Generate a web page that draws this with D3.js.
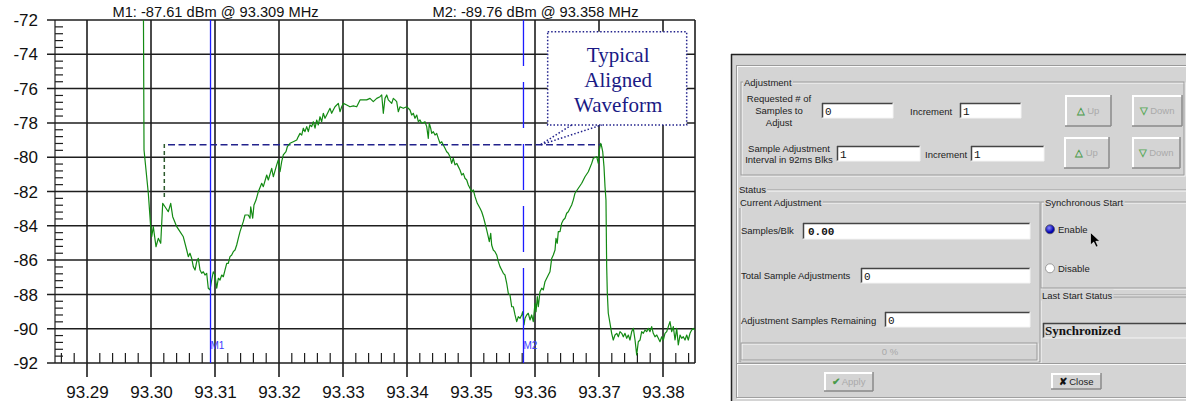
<!DOCTYPE html>
<html><head><meta charset="utf-8">
<script src="https://cdn.jsdelivr.net/npm/d3@7"></script>
<style>body{margin:0;background:#fff}svg{display:block}</style>
</head><body><svg id="c" width="1186" height="401"></svg>
<script>
// ---------- data ----------
const freqMHz = [
93.29880,93.29891,93.29958,93.29995,93.30011,93.30036,93.30078,93.30114,93.30152,93.30183,
93.30219,93.30270,93.30308,93.30339,93.30402,93.30453,93.30505,93.30558,93.30583,93.30609,
93.30636,93.30661,93.30688,93.30714,93.30739,93.30766,93.30792,93.30817,93.30844,93.30870,
93.30895,93.30922,93.30948,93.30973,93.31000,93.31027,93.31052,93.31078,93.31105,93.31130,
93.31156,93.31183,93.31208,93.31234,93.31261,93.31286,93.31313,93.31339,93.31364,93.31391,
93.31442,93.31469,93.31520,93.31547,93.31558,93.31589,93.31609,93.31641,93.31677,93.31730,
93.31755,93.31808,93.31833,93.31886,93.31911,93.31964,93.31989,93.32016,93.32042,93.32067,
93.32109,93.32130,93.32172,93.32223,93.32277,93.32302,93.32328,93.32355,93.32380,93.32406,
93.32433,93.32458,93.32484,93.32511,93.32536,93.32563,93.32589,93.32614,93.32641,93.32667,
93.32692,93.32719,93.32745,93.32770,93.32797,93.32823,93.32848,93.32875,93.32927,93.32953,
93.32980,93.33005,93.33058,93.33109,93.33161,93.33214,93.33266,93.33317,93.33370,93.33422,
93.33473,93.33527,93.33578,93.33605,93.33630,93.33656,93.33683,93.33708,93.33761,93.33786,
93.33813,93.33839,93.33864,93.33891,93.33942,93.33995,93.34047,93.34073,93.34098,93.34125,
93.34152,93.34177,93.34203,93.34230,93.34281,93.34308,93.34333,93.34348,93.34370,93.34386,
93.34411,93.34438,93.34464,93.34489,93.34516,93.34542,93.34567,93.34594,93.34620,93.34645,
93.34672,93.34698,93.34723,93.34750,93.34777,93.34802,93.34828,93.34855,93.34880,93.34906,
93.34933,93.34958,93.34984,93.35011,93.35036,93.35063,93.35098,93.35141,93.35167,93.35192,
93.35219,93.35245,93.35270,93.35286,93.35308,93.35323,93.35348,93.35375,93.35402,93.35427,
93.35453,93.35480,93.35505,93.35531,93.35558,93.35583,93.35609,93.35636,93.35661,93.35688,
93.35714,93.35739,93.35766,93.35792,93.35808,93.35828,93.35844,93.35870,93.35895,93.35922,
93.35948,93.35973,93.36000,93.36016,93.36036,93.36052,93.36078,93.36105,93.36130,93.36156,
93.36183,93.36208,93.36234,93.36261,93.36286,93.36313,93.36328,93.36348,93.36364,93.36391,
93.36417,93.36442,93.36469,93.36495,93.36520,93.36547,93.36573,93.36598,93.36625,93.36677,
93.36730,93.36781,93.36833,93.36886,93.36911,93.36964,93.36989,93.37005,93.37027,93.37042,
93.37058,93.37078,93.37094,93.37109,93.37120,93.37130,93.37145,93.37172,93.37198,93.37223,
93.37250,93.37277,93.37302,93.37328,93.37355,93.37380,93.37406,93.37433,93.37458,93.37484,
93.37511,93.37536,93.37563,93.37589,93.37614,93.37641,93.37667,93.37692,93.37719,93.37745,
93.37770,93.37797,93.37823,93.37848,93.37875,93.37902,93.37927,93.37953,93.37980,93.38005,
93.38031,93.38058,93.38083,93.38109,93.38136,93.38161,93.38188,93.38214,93.38239,93.38266,
93.38292,93.38317,93.38344,93.38370,93.38395,93.38422,93.38448,93.38473,93.38495];
const levelDbm = [
-70.00,-79.58,-82.10,-84.05,-84.64,-84.05,-85.22,-84.73,-85.02,-82.69,
-82.89,-83.18,-82.69,-83.47,-84.05,-84.34,-84.64,-85.41,-85.80,-85.60,
-85.90,-86.38,-86.58,-86.09,-85.90,-86.58,-86.77,-86.68,-86.87,-86.77,
-87.64,-87.74,-87.16,-86.68,-86.87,-87.64,-87.06,-87.16,-86.87,-86.97,
-86.58,-86.19,-86.19,-85.80,-85.70,-85.51,-85.41,-85.12,-84.73,-84.34,
-83.76,-83.37,-83.37,-83.56,-82.89,-83.56,-82.79,-82.50,-82.01,-81.52,
-81.72,-81.04,-81.33,-80.65,-81.14,-80.45,-80.16,-80.85,-80.26,-79.87,
-79.68,-79.39,-79.19,-79.10,-79.00,-78.80,-78.61,-78.71,-78.31,-78.51,
-78.22,-78.51,-78.12,-78.22,-77.93,-78.31,-77.83,-78.12,-77.64,-77.93,
-77.44,-77.73,-77.54,-77.35,-77.15,-77.44,-77.25,-77.06,-76.86,-77.35,
-77.06,-76.86,-76.96,-77.06,-77.01,-77.06,-76.66,-76.66,-76.66,-76.57,
-76.76,-76.57,-76.47,-76.37,-77.44,-76.57,-76.37,-76.66,-76.86,-76.57,
-76.66,-76.76,-77.35,-77.06,-77.15,-77.06,-77.25,-77.54,-77.44,-77.73,
-77.54,-77.93,-77.83,-78.02,-77.93,-78.22,-78.90,-78.02,-78.31,-78.61,
-78.51,-78.71,-78.61,-78.90,-79.19,-79.10,-79.29,-79.48,-79.68,-79.77,
-79.97,-80.36,-80.06,-80.45,-80.36,-80.55,-80.75,-81.04,-80.94,-81.23,
-81.33,-81.62,-81.81,-82.01,-81.91,-82.30,-82.69,-82.98,-83.18,-83.47,
-83.85,-84.24,-84.64,-84.93,-84.44,-85.12,-85.41,-85.51,-85.70,-86.09,
-86.38,-86.58,-86.77,-86.87,-87.35,-87.94,-88.03,-88.72,-88.72,-89.20,
-89.59,-89.30,-89.39,-89.20,-89.01,-89.78,-89.39,-89.20,-89.10,-89.49,
-89.20,-89.59,-88.52,-89.01,-88.13,-88.72,-87.84,-87.64,-87.74,-87.26,
-87.06,-86.87,-86.68,-85.90,-85.70,-85.41,-84.73,-85.02,-84.34,-84.34,
-83.85,-83.66,-83.56,-83.27,-83.18,-82.98,-82.79,-82.50,-82.10,-81.81,
-81.52,-81.14,-80.85,-80.36,-80.06,-79.97,-80.36,-79.58,-79.19,-79.39,
-79.68,-80.55,-81.72,-82.50,-86.38,-87.94,-89.10,-89.69,-90.27,-90.66,
-90.37,-90.27,-90.47,-90.17,-90.27,-90.47,-90.27,-90.56,-90.37,-90.66,
-90.17,-89.98,-90.66,-91.53,-90.76,-90.66,-90.17,-90.27,-90.08,-90.17,
-89.98,-90.17,-89.88,-90.27,-90.47,-90.37,-90.56,-90.76,-90.47,-90.66,
-90.27,-90.17,-89.88,-89.59,-90.17,-89.88,-90.66,-89.98,-90.95,-90.37,
-90.56,-90.47,-90.66,-90.37,-90.66,-90.27,-90.08,-89.98,-90.08];

const xTickValues = [93.29,93.30,93.31,93.32,93.33,93.34,93.35,93.36,93.37,93.38];
const yTickValues = [-72,-74,-76,-78,-80,-82,-84,-86,-88,-90,-92];

const markerNames = ["M1","M2"];
const markerFreq  = [93.3093, 93.3582];
const markerLevel = [-87.61, -89.76];

// typical aligned waveform (dashed reference)
const refStepFreq = 93.30208;
const refStepLevels = [-79.23, -82.5];
const refFreq  = [93.30266, 93.37042];
const refLevel = [-79.28, -79.28];

// callout
const calloutLines = ["Typical","Aligned","Waveform"];
const calloutBoxFreq = [93.36198, 93.38370];
const calloutBoxLevel = [-72.68, -78.12];
const calloutTipFreq = 93.36078, calloutTipLevel = -79.29;
const calloutBaseFreq = [93.36573, 93.37042];

// ---------- chart ----------
const svg = d3.select("#c");
const L = 55, R = 695, T = 20, B = 363;
const x = d3.scaleLinear().domain([93.285, 93.385]).range([L, R]);
const y = d3.scaleLinear().domain([-92, -72]).range([B, T]);
const gridC = "#1e1e1e";

svg.append("clipPath").attr("id","plot").append("rect")
  .attr("x",L).attr("y",T).attr("width",R-L).attr("height",B-T);

svg.append("g").selectAll("line").data(yTickValues).join("line")
  .attr("x1",L-8).attr("x2",R).attr("y1",d=>y(d)).attr("y2",d=>y(d))
  .attr("stroke",gridC).attr("stroke-width",1.5);
svg.append("g").selectAll("line").data(xTickValues).join("line")
  .attr("x1",d=>x(d)).attr("x2",d=>x(d)).attr("y1",T).attr("y2",B+14)
  .attr("stroke",gridC).attr("stroke-width",1.6);
svg.append("line").attr("x1",L).attr("x2",L).attr("y1",T).attr("y2",B).attr("stroke",gridC).attr("stroke-width",1.2);
svg.append("line").attr("x1",R).attr("x2",R).attr("y1",T).attr("y2",B).attr("stroke",gridC).attr("stroke-width",1.6);

const isMajorX = v => Math.abs(v*100 - Math.round(v*100)) < 1e-6;
const minorX = x.ticks(50).filter(v=>!isMajorX(v));
svg.append("g").selectAll("line").data(minorX).join("line")
  .attr("x1",d=>x(d)).attr("x2",d=>x(d)).attr("y1",B-10).attr("y2",B)
  .attr("stroke",gridC).attr("stroke-width",1.2);
const minorY = d3.range(-92, -72, 0.4).map(v=>+v.toFixed(1)).filter(v=>Math.abs(v/2-Math.round(v/2))>1e-6);
svg.append("g").selectAll("line").data(minorY).join("line")
  .attr("x1",L).attr("x2",L+8).attr("y1",d=>y(d)).attr("y2",d=>y(d))
  .attr("stroke",gridC).attr("stroke-width",1.2);

const xAxis = svg.append("g").attr("transform",`translate(0,${B})`)
  .call(d3.axisBottom(x).tickValues(xTickValues).tickSize(14).tickPadding(9).tickFormat(d3.format(".2f")));
const yAxis = svg.append("g").attr("transform",`translate(${L},0)`)
  .call(d3.axisLeft(y).tickValues(yTickValues).tickSize(8).tickPadding(9).tickFormat(d=>d));
[xAxis,yAxis].forEach(a=>{
  a.select(".domain").remove();
  a.selectAll(".tick line").remove();
  a.selectAll("text").attr("font-family","'Liberation Sans', Arial, sans-serif").attr("font-size",17).attr("fill","#111");
});
yAxis.selectAll("text").attr("dy","0.33em");

svg.append("line")
  .attr("x1",x(refStepFreq)).attr("x2",x(refStepFreq))
  .attr("y1",y(refStepLevels[0])).attr("y2",y(refStepLevels[1]))
  .attr("stroke","#2d5a2d").attr("stroke-width",1.5).attr("stroke-dasharray","4,3");
svg.append("path")
  .attr("d",d3.line().x(d=>x(d[0])).y(d=>y(d[1]))(refFreq.map((f,i)=>[f,refLevel[i]])))
  .attr("fill","none").attr("stroke","#22228c").attr("stroke-width",1.5).attr("stroke-dasharray","7,3.5");

svg.append("path")
  .attr("clip-path","url(#plot)")
  .attr("d",d3.line().x(d=>x(d[0])).y(d=>y(d[1]))(freqMHz.map((f,i)=>[f,levelDbm[i]])))
  .attr("fill","none").attr("stroke","#138a13").attr("stroke-width",1.2).attr("stroke-linejoin","round");

const markerDash = [null, "46,16,46,16,46,16,46,16,100"];
const headerShift = [5, 12];
markerNames.forEach((name,i)=>{
  const mx = x(markerFreq[i]);
  svg.append("line").attr("x1",mx).attr("x2",mx).attr("y1",T).attr("y2",B)
    .attr("stroke","#1c1cff").attr("stroke-width",1.3)
    .attr("stroke-dasharray",markerDash[i]);
  svg.append("text").attr("x",mx).attr("y",349).text(name)
    .attr("font-family","'Liberation Sans', Arial, sans-serif").attr("font-size",10).attr("fill","#3a3aff");
  svg.append("text").attr("x",mx+headerShift[i]).attr("y",16.5).attr("text-anchor","middle")
    .attr("font-family","'Liberation Sans', Arial, sans-serif").attr("font-size",14)
    .attr("textLength",206).attr("lengthAdjust","spacingAndGlyphs").attr("fill","#111")
    .text(`${name}: ${markerLevel[i].toFixed(2)} dBm @ ${markerFreq[i].toFixed(3)} MHz`);
});

const cbx0 = x(calloutBoxFreq[0]), cbx1 = x(calloutBoxFreq[1]);
const cby0 = y(calloutBoxLevel[0]), cby1 = y(calloutBoxLevel[1]);
svg.append("rect").attr("x",cbx0).attr("y",cby0).attr("width",cbx1-cbx0).attr("height",cby1-cby0)
  .attr("fill","#fff").attr("stroke","#22228c").attr("stroke-width",1.5).attr("stroke-dasharray","1.5,2");
svg.append("path")
  .attr("d",`M${x(calloutBaseFreq[0])},${cby1}L${x(calloutTipFreq)},${y(calloutTipLevel)}L${x(calloutBaseFreq[1])},${cby1}`)
  .attr("fill","none").attr("stroke","#22228c").attr("stroke-width",1.5).attr("stroke-dasharray","1.5,2");
svg.append("g").selectAll("text").data(calloutLines).join("text")
  .attr("x",(cbx0+cbx1)/2+1).attr("y",(d,i)=>61.5+i*25).attr("text-anchor","middle")
  .attr("font-family","'Liberation Serif','Times New Roman',serif").attr("font-size",21).attr("fill","#1a1a85")
  .text(d=>d);

// ---------- GUI panel ----------
const bg = "#d4d4d4";
const gui = svg.append("g").attr("font-family","'Liberation Sans', Arial, sans-serif").attr("font-size",9.5);
gui.append("rect").attr("x",731).attr("y",54).attr("width",455).attr("height",347).attr("fill",bg);
function ln(x1,y1,x2,y2,c,w){gui.append("line").attr("x1",x1).attr("y1",y1).attr("x2",x2).attr("y2",y2).attr("stroke",c).attr("stroke-width",w||1);}
function txt(px,py,s,o={}){return gui.append("text").attr("x",px).attr("y",py).text(s)
  .attr("fill",o.fill||"#222").attr("text-anchor",o.anchor||"start")
  .attr("font-size",o.size||9.5).attr("font-weight",o.weight||null).attr("font-family",o.family||null);}
function etched(px,py,w,h){
  gui.append("rect").attr("x",px+1).attr("y",py+1).attr("width",w).attr("height",h).attr("fill","none").attr("stroke","#fafafa");
  gui.append("rect").attr("x",px).attr("y",py).attr("width",w).attr("height",h).attr("fill","none").attr("stroke","#9a9a9a");
}
function label(px,py,s){
  const t = txt(px,py,s);
  const bb = t.node().getBBox();
  gui.insert("rect",()=>t.node()).attr("x",bb.x-1).attr("y",bb.y).attr("width",bb.width+2).attr("height",bb.height).attr("fill",bg);
}
function field(px,py,w,h,val,o={}){
  gui.append("rect").attr("x",px).attr("y",py).attr("width",w).attr("height",h).attr("fill",o.fill||"#fff");
  ln(px,py+0.5,px+w,py+0.5,"#444",1.5); ln(px+0.5,py,px+0.5,py+h,"#444",1.5);
  ln(px,py+h,px+w,py+h,"#f4f4f4",1); ln(px+w,py,px+w,py+h,"#f4f4f4",1);
  txt(px+(o.pad||3),py+h/2+4,val,{family:o.family||"'Liberation Mono','DejaVu Sans Mono',monospace",size:o.size||11,weight:o.weight,fill:"#111"});
}
function button(px,py,w,h,icon,lab,enabled,iconColor){
  gui.append("rect").attr("x",px).attr("y",py).attr("width",w).attr("height",h).attr("fill",bg);
  ln(px,py+1,px+w,py+1,"#ffffff",2); ln(px+1,py,px+1,py+h,"#ffffff",2);
  ln(px,py+h,px+w,py+h,"#8a8a8a",1.5); ln(px+w,py,px+w,py+h,"#8a8a8a",1.5);
  const cx = px+w/2, cy = py+h/2+3.5;
  const g = gui.append("text").attr("x",cx).attr("y",cy).attr("text-anchor","middle");
  g.append("tspan").text(icon).attr("fill",iconColor).attr("font-weight","bold");
  g.append("tspan").text(" "+lab).attr("fill",enabled?"#222":"#aaaaaa");
}

ln(731,54.5,1186,54.5,"#222",1.5);
ln(731.5,54,731.5,401,"#222",1.5);
ln(736,65.5,1186,65.5,"#9a9a9a",1); ln(736,66.5,1186,66.5,"#fafafa",1);
ln(736.5,65,736.5,398,"#9a9a9a",1); ln(737.5,66,737.5,398,"#fafafa",1);

etched(741,82,443,93);
label(744,86,"Adjustment");
["Requested # of","Samples to","Adjust"].forEach((s,i)=>txt(779,102+i*12.2,s,{anchor:"middle"}));
field(822,103,71,15,"0");
txt(910,115,"Increment");
field(960,103,61,15,"1");
button(1065,95,46,31,"△","Up",false,"#4a9a4a");
button(1132,95,50,31,"▽","Down",false,"#5aaa5a");
txt(789,151.5,"Sample Adjustment",{anchor:"middle"});
txt(789,162.5,"Interval in 92ms Blks",{anchor:"middle"});
field(837,146,83,15,"1");
txt(925,157.5,"Increment");
field(971,146,73,15,"1");
button(1064,137,45,31,"△","Up",false,"#4a9a4a");
button(1132,137,48,31,"▽","Down",false,"#5aaa5a");

ln(739,190,1186,190,"#9a9a9a",1); ln(739,191,1186,191,"#fafafa",1);
label(739,193,"Status");
etched(740,202,300,160);
label(740,206,"Current Adjustment");
etched(1041,202,150,86);
label(1045,206,"Synchronous Start");
txt(741,234,"Samples/Blk");
field(803,223,227,16,"0.00",{weight:"bold",pad:5});
txt(741,279,"Total Sample Adjustments");
field(861,268,169,15,"0");
txt(741,323.5,"Adjustment Samples Remaining");
field(885,312,145,15,"0");
etched(741,343,296,17);
txt(890,355,"0 %",{anchor:"middle",fill:"#a8a8a8"});

const rg = gui.append("defs").append("radialGradient").attr("id","rb").attr("cx","40%").attr("cy","35%");
rg.append("stop").attr("offset","0%").attr("stop-color","#8a8aff");
rg.append("stop").attr("offset","100%").attr("stop-color","#0000b0");
gui.append("circle").attr("cx",1050).attr("cy",229.3).attr("r",4.5).attr("fill","url(#rb)").attr("stroke","#555").attr("stroke-width",0.8);
txt(1058,232.8,"Enable");
gui.append("circle").attr("cx",1050).attr("cy",268.3).attr("r",4.5).attr("fill","#fff").attr("stroke","#888").attr("stroke-width",0.8);
txt(1058,271.8,"Disable");
gui.append("path").attr("d","M0,0L0,12.5L3.2,9.6L5.6,14.6L7.6,13.7L5.3,8.8L9.4,8.8Z")
  .attr("transform","translate(1090.5,232.5)").attr("fill","#000").attr("stroke","#fff").attr("stroke-width",0.6);

ln(1041,295,1186,295,"#9a9a9a",1); ln(1041,296,1186,296,"#fafafa",1); ln(1041,297,1186,297,"#9a9a9a",1);
label(1042,298.5,"Last Start Status");
field(1043,323,150,15,"Synchronized",{fill:"#d9d9d9",family:"'Liberation Serif','Times New Roman',serif",weight:"bold",size:13,pad:2});

ln(737,363.5,1186,363.5,"#9a9a9a",1); ln(737,364.5,1186,364.5,"#fafafa",1);
button(824,372,49,19,"✔","Apply",false,"#4a9a4a");
button(1051,373,50,16,"✘","Close",true,"#111");
ln(737,397.5,1186,397.5,"#a0a0a0",1); ln(737,398.5,1186,398.5,"#fafafa",1);
</script></body></html>
